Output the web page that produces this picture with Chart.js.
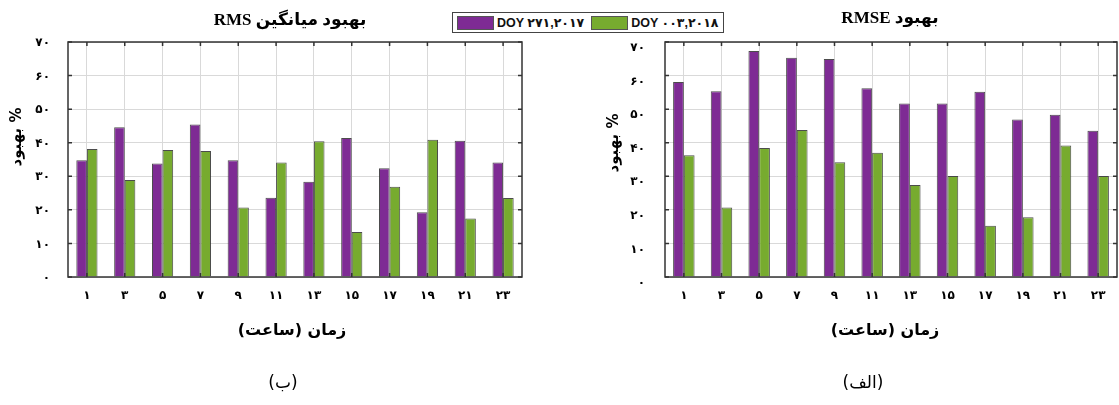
<!DOCTYPE html>
<html>
<head>
<meta charset="utf-8">
<script src="https://cdn.jsdelivr.net/npm/chart.js@4.4.1/dist/chart.umd.min.js"></script>
<style>
  html, body { margin: 0; padding: 0; background: #fff; }
  #wrap { position: relative; width: 1119px; height: 405px; overflow: hidden; }
  canvas { position: absolute; top: 0; }
  #cl { left: 0; }
  #cr { left: 560px; }
  #legend {
    position: absolute; left: 452px; top: 12px; width: 270px; height: 19px;
    border: 1.5px solid #444; background: #fff; display: flex; align-items: center;
    font: bold 12.5px "Liberation Sans", "DejaVu Sans", sans-serif; color: #111;
    white-space: nowrap;
  }
  .sw { width: 35px; height: 12px; border: 1px solid #555; margin: 0 3px 0 4px; flex: none; }
</style>
</head>
<body>
<div id="wrap">
  <canvas id="cl" width="560" height="405"></canvas>
  <canvas id="cr" width="559" height="405"></canvas>
  <div id="legend">
    <span class="sw" style="background:#7e2b94"></span><span id="lg0"></span>
    <span class="sw" style="background:#77ab2f;margin-left:7px"></span><span id="lg1"></span>
  </div>
</div>
<script>
// Hours of day (Persian digits) and y-axis tick labels
const hours = ['۱', '۳', '۵', '۷', '۹', '۱۱', '۱۳', '۱۵', '۱۷', '۱۹', '۲۱', '۲۳'];
const yTickLabels = ['۰', '۱۰', '۲۰', '۳۰', '۴۰', '۵۰', '۶۰', '۷۰'];
const seriesNames = ['DOY ۲۷۱,۲۰۱۷', 'DOY ۰۰۳,۲۰۱۸'];

// Mean RMS improvement (%)
const rmsMean2017 = [34.8, 44.6, 33.8, 45.4, 34.8, 23.6, 28.4, 41.4, 32.4, 19.3, 40.6, 34.1];
const rmsMean2018 = [38.1, 28.9, 37.8, 37.5, 20.7, 34.1, 40.4, 13.4, 26.9, 40.9, 17.4, 23.5];

// RMSE improvement (%)
const rmse2017 = [58.1, 55.3, 67.3, 65.3, 64.9, 56.2, 51.7, 51.7, 55.2, 46.9, 48.3, 43.6];
const rmse2018 = [36.3, 20.7, 38.4, 43.8, 34.2, 37.0, 27.4, 30.1, 15.3, 17.8, 39.2, 30.1];

document.getElementById('lg0').textContent = seriesNames[0];
document.getElementById('lg1').textContent = seriesNames[1];

const PURPLE = '#7e2b94';
const GREEN = '#77ab2f';
const EDGE = 'rgba(45,45,45,0.85)';
const TICK_FONT = { family: '"DejaVu Sans", sans-serif', weight: 'bold', size: 12 };

// Draws the boxed frame with inward tick marks plus the figure texts
const framePlugin = {
  id: 'frame',
  afterDraw(chart, args, o) {
    const { ctx, chartArea: a, scales: { x, y } } = chart;
    ctx.save();
    ctx.strokeStyle = '#333';
    ctx.lineWidth = 1.5;
    ctx.beginPath();
    x.ticks.forEach((t, i) => {
      const px = x.getPixelForTick(i);
      ctx.moveTo(px, a.top); ctx.lineTo(px, a.top + 4);
      ctx.moveTo(px, a.bottom); ctx.lineTo(px, a.bottom - 4);
    });
    y.ticks.forEach((t, i) => {
      const py = y.getPixelForTick(i);
      ctx.moveTo(a.left, py); ctx.lineTo(a.left + 4, py);
      ctx.moveTo(a.right, py); ctx.lineTo(a.right - 4, py);
    });
    ctx.stroke();
    ctx.strokeRect(a.left, a.top, a.right - a.left, a.bottom - a.top);

    ctx.fillStyle = '#000';
    ctx.textAlign = 'center';
    ctx.textBaseline = 'middle';

    ctx.direction = 'rtl';
    ctx.font = 'bold 17px "Liberation Serif", "DejaVu Serif", "DejaVu Sans", serif';
    ctx.fillText(o.title, o.titleX, o.titleY);

    ctx.font = 'bold 16px "DejaVu Sans", sans-serif';
    ctx.fillText(o.xTitle, o.xTitleX, o.xTitleY);

    ctx.font = '17px "DejaVu Sans", sans-serif';
    ctx.fillText(o.caption, o.captionX, o.captionY);

    ctx.direction = 'ltr';
    ctx.save();
    ctx.translate(o.yTitleX, o.yTitleY);
    ctx.rotate(-Math.PI / 2);
    ctx.font = 'bold 15px "DejaVu Sans", sans-serif';
    ctx.fillText(o.yTitle, 0, 0);
    ctx.restore();

    ctx.restore();
  }
};

function makeChart(id, d2017, d2018, geom, texts) {
  return new Chart(document.getElementById(id), {
    type: 'bar',
    data: {
      labels: hours,
      datasets: [
        { label: seriesNames[0], data: d2017, backgroundColor: PURPLE, borderColor: EDGE, borderWidth: 1 },
        { label: seriesNames[1], data: d2018, backgroundColor: GREEN, borderColor: EDGE, borderWidth: 1 }
      ]
    },
    options: {
      responsive: false,
      animation: false,
      events: [],
      categoryPercentage: geom.catPct,
      barPercentage: 1.0,
      layout: { padding: { top: 42, bottom: 0, left: 0, right: geom.right } },
      plugins: {
        legend: { display: false },
        tooltip: { enabled: false },
        title: { display: false },
        frame: texts
      },
      scales: {
        x: {
          grid: { offset: false, color: '#d9d9d9', lineWidth: 1, drawTicks: false },
          border: { display: false },
          ticks: { color: '#000', font: TICK_FONT, padding: 12, maxRotation: 0, autoSkip: false },
          afterFit(s) { s.height = 128; }
        },
        y: {
          min: 0, max: 70,
          grid: { color: '#d9d9d9', lineWidth: 1, drawTicks: false },
          border: { display: false },
          ticks: {
            stepSize: 10, color: '#000', font: TICK_FONT, padding: geom.tickPad,
            labelOffset: geom.labelOffset,
            callback: v => yTickLabels[Math.round(v / 10)]
          },
          afterFit(s) { s.width = geom.left; }
        }
      }
    },
    plugins: [framePlugin]
  });
}

makeChart('cl', rmsMean2017, rmsMean2018,
  { left: 68, right: 38, catPct: 0.56, tickPad: 18, labelOffset: 1 },
  { title: 'بهبود میانگین RMS', titleX: 290, titleY: 21,
    xTitle: 'زمان (ساعت)', xTitleX: 292, xTitleY: 331,
    caption: '(ب)', captionX: 283, captionY: 384,
    yTitle: 'بهبود %', yTitleX: 17, yTitleY: 137 });

makeChart('cr', rmse2017, rmse2018,
  { left: 105, right: 2, catPct: 0.57, tickPad: 20, labelOffset: 6 },
  { title: 'بهبود RMSE', titleX: 330, titleY: 19,
    xTitle: 'زمان (ساعت)', xTitleX: 325, xTitleY: 331,
    caption: '(الف)', captionX: 303, captionY: 384,
    yTitle: 'بهبود %', yTitleX: 54, yTitleY: 143 });
</script>
</body>
</html>
